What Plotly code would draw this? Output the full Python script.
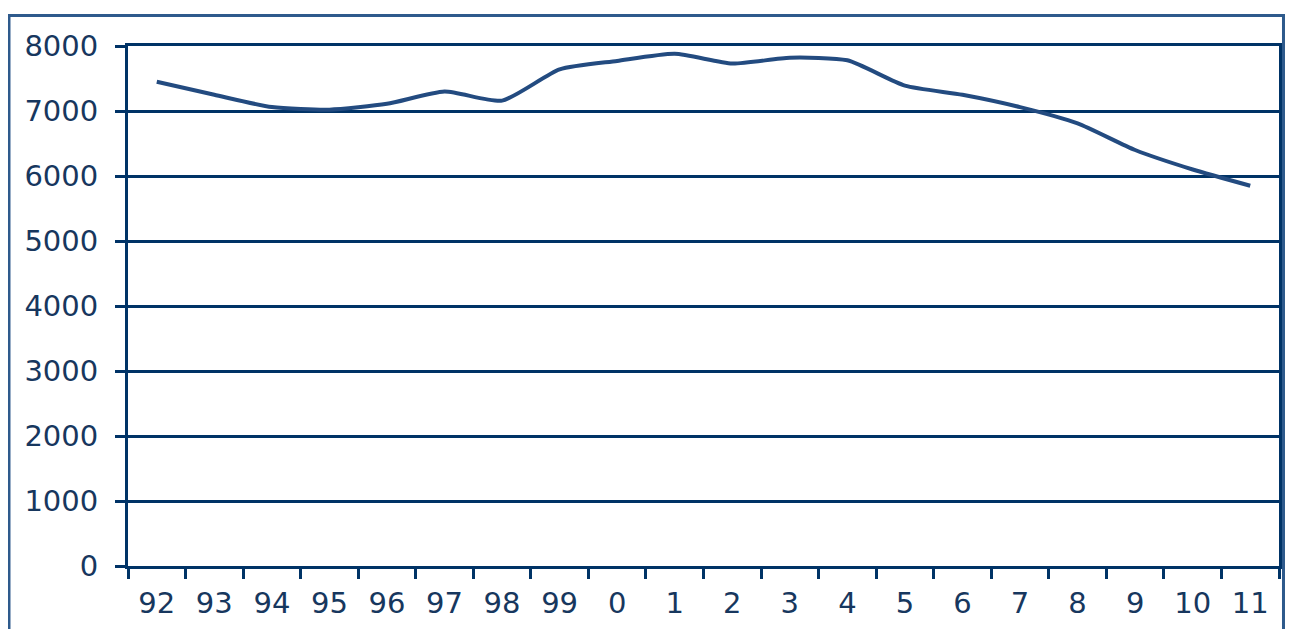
import plotly.graph_objects as go

years = ["92", "93", "94", "95", "96", "97", "98", "99", "0", "1",
         "2", "3", "4", "5", "6", "7", "8", "9", "10", "11"]
values = [7450, 7250, 7060, 7020, 7110, 7300, 7160, 7640, 7770, 7880,
          7730, 7820, 7780, 7390, 7250, 7060, 6810, 6400, 6100, 5850]
y_ticks = [0, 1000, 2000, 3000, 4000, 5000, 6000, 7000, 8000]

NAVY = "#003366"
TEXT = "#17375e"

fig = go.Figure(
    go.Scatter(
        x=years,
        y=values,
        mode="lines",
        line=dict(color="#234b80", width=4, shape="spline", smoothing=0.6),
        hoverinfo="x+y",
    )
)

fig.update_xaxes(
    type="category",
    range=[-0.5, len(years) - 0.5],
    automargin=False,
    showline=True, linecolor=NAVY, linewidth=3, mirror=True,
    ticks="outside", tickson="boundaries", ticklen=10, tickwidth=3, tickcolor=NAVY,
    showgrid=False,
    tickfont=dict(family="DejaVu Sans", size=29, color=TEXT),
    ticklabelstandoff=9,
)
fig.update_yaxes(
    range=[0, 8000],
    tickvals=y_ticks,
    automargin=False,
    showline=True, linecolor=NAVY, linewidth=3, mirror=True,
    ticks="outside", ticklen=10, tickwidth=3, tickcolor=NAVY,
    showgrid=True, gridcolor=NAVY, gridwidth=3,
    zeroline=False,
    tickfont=dict(family="DejaVu Sans", size=29, color=TEXT),
    ticklabelstandoff=11,
)

# outer chart-area border
fig.add_shape(
    type="rect", xref="paper", yref="paper",
    x0=-0.1034, x1=1.0039, y0=-0.2, y1=1.0587,
    line=dict(color="#2e5a8c", width=3), layer="below",
)

# page body keeps its 8px margin, so the figure is a little smaller
fig.update_layout(
    width=1282, height=621,
    margin=dict(l=120, r=11, t=38, b=63, autoexpand=False),
    paper_bgcolor="white", plot_bgcolor="white",
    showlegend=False,
)

fig.write_html("out.html")
